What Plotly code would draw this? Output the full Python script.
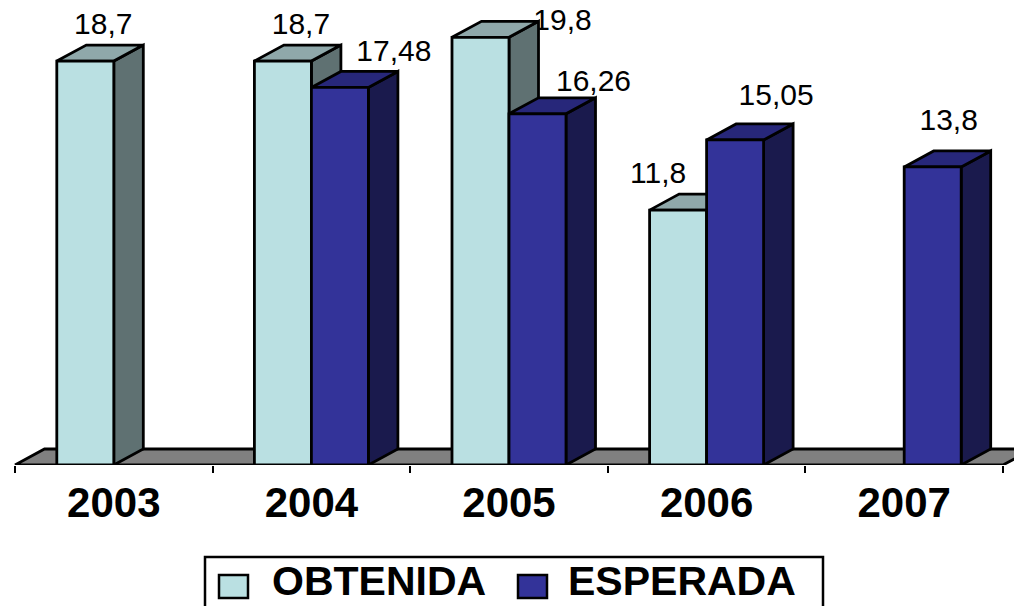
import plotly.graph_objects as go

# Values
years = ["2003", "2004", "2005", "2006", "2007"]
obtenida = [18.7, 18.7, 19.8, 11.8, None]
esperada = [None, 17.48, 16.26, 15.05, 13.8]
obtenida_text = ["18,7", "18,7", "19,8", "11,8", None]
esperada_text = [None, "17,48", "16,26", "15,05", "13,8"]

# Hand placed data labels in the original, offset from the bar front centre (pixels)
obtenida_label_dx = [18, 18, 82, -20, 0]
obtenida_label_dy = [35, 35, 15, 35, 0]
esperada_label_dx = [0, 54, 56, 41, 16]
esperada_label_dy = [0, 34, 30, 42, 44]

# Pixel scale of the axes
PX_PER_CAT = 197.6
PX_PER_UNIT = 21.6
WIDTH = 1014
HEIGHT = 606
PLOT_HEIGHT = 465
LEFT_TICK = 15

BAR_W = 57 / PX_PER_CAT
DEPTH_X = 29.5 / PX_PER_CAT
DEPTH_Y = 16 / PX_PER_UNIT

LINE = dict(color="black", width=2.8)
FONT = "Liberation Sans"
LIGHT = "#BAE0E2"
BLUE = "#333399"


def polygon(xs, ys, color):
    return go.Scatter(
        x=xs + xs[:1], y=ys + ys[:1], mode="lines", fill="toself", fillcolor=color,
        line=LINE, hoverinfo="skip", showlegend=False,
    )


def bar_3d(x0, value, front, top, side):
    """Side, top and front faces of one bar, back to front."""
    x1 = x0 + BAR_W
    return [
        polygon([x1, x1 + DEPTH_X, x1 + DEPTH_X, x1], [0, DEPTH_Y, value + DEPTH_Y, value], side),
        polygon([x0, x0 + DEPTH_X, x1 + DEPTH_X, x1], [value, value + DEPTH_Y, value + DEPTH_Y, value], top),
        polygon([x0, x1, x1, x0], [0, 0, value, value], front),
    ]


def labels(offset, values, texts, dxs, dys):
    xs, ys, ts = [], [], []
    for i, v in enumerate(values):
        if v is None:
            continue
        xs.append(i + offset + BAR_W / 2 + dxs[i] / PX_PER_CAT)
        ys.append(v + dys[i] / PX_PER_UNIT)
        ts.append(texts[i])
    return go.Scatter(
        x=xs, y=ys, text=ts, mode="text", textposition="middle center",
        textfont=dict(family=FONT, size=30, color="black"),
        hoverinfo="skip", showlegend=False,
    )


def paper_x(px):
    return px / WIDTH


def paper_y(px):
    return (PLOT_HEIGHT - px) / PLOT_HEIGHT


fig = go.Figure()

# Labels go first: the 2005 bar hides part of its own label in the original
fig.add_trace(labels(-BAR_W, obtenida, obtenida_text, obtenida_label_dx, obtenida_label_dy))
fig.add_trace(labels(0, esperada, esperada_text, esperada_label_dx, esperada_label_dy))

# Floor
n = len(years)
fig.add_trace(polygon(
    [-0.5, -0.5 + DEPTH_X, n - 0.5 + DEPTH_X, n - 0.5],
    [0, DEPTH_Y, DEPTH_Y, 0], "#808080",
))

for i in range(n):
    if obtenida[i] is not None:
        fig.add_traces(bar_3d(i - BAR_W, obtenida[i], LIGHT, "#8FA8AA", "#5F7172"))
    if esperada[i] is not None:
        fig.add_traces(bar_3d(i, esperada[i], BLUE, "#27277A", "#1A1A4D"))

# Legend is drawn by hand: the native one caps its symbols well below the size needed,
# and the box runs off the bottom of the page
fig.add_shape(
    type="rect", xref="paper", yref="paper", layer="above",
    x0=paper_x(205), x1=paper_x(823), y0=paper_y(557), y1=paper_y(620),
    line=dict(color="black", width=2.5), fillcolor="white",
)
for name, color, swatch_x, text_x in [("OBTENIDA", LIGHT, 219, 379), ("ESPERADA", BLUE, 518, 682)]:
    fig.add_shape(
        type="rect", xref="paper", yref="paper", layer="above",
        x0=paper_x(swatch_x), x1=paper_x(swatch_x + 29), y0=paper_y(575), y1=paper_y(598),
        line=dict(color="black", width=2.5), fillcolor=color,
    )
    fig.add_annotation(
        text=name, xref="paper", yref="paper", x=paper_x(text_x), y=paper_y(606),
        xanchor="center", yanchor="bottom", showarrow=False,
        font=dict(family=FONT, size=41, color="black", weight="bold"),
    )

x_min = -0.5 - LEFT_TICK / PX_PER_CAT
fig.update_layout(
    width=WIDTH, height=HEIGHT,
    margin=dict(l=0, r=0, t=0, b=HEIGHT - PLOT_HEIGHT),
    paper_bgcolor="white", plot_bgcolor="white",
    showlegend=False,
    hovermode=False,
)
fig.update_xaxes(
    range=[x_min, x_min + WIDTH / PX_PER_CAT],
    tickmode="array", tickvals=list(range(n)), ticktext=years, ticks="",
    tickfont=dict(family=FONT, size=42, color="black", weight="bold"),
    ticklabelstandoff=9,
    showgrid=False, zeroline=False, showline=False,
    minor=dict(
        tickmode="array", tickvals=[i - 0.5 for i in range(n + 1)],
        ticks="outside", ticklen=7, tickwidth=2, tickcolor="black", showgrid=False,
    ),
)
fig.update_yaxes(range=[0, PLOT_HEIGHT / PX_PER_UNIT], visible=False)

# Drop the browser's default page margin so the figure sits flush with the window
fig.write_html(
    "out.html", config=dict(displayModeBar=False),
    post_script="document.body.style.margin='0';document.body.style.overflow='hidden';",
)
